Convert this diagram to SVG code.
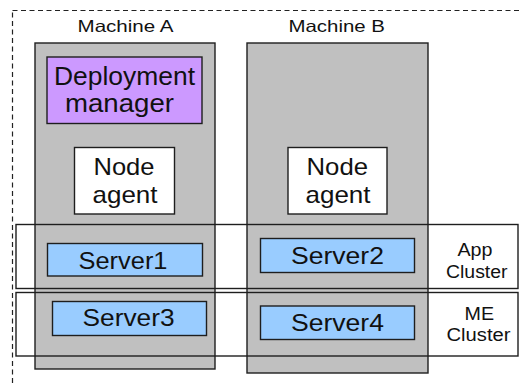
<svg xmlns="http://www.w3.org/2000/svg" width="521" height="385" viewBox="0 0 521 385">
  <style>
    text { font-family: "Liberation Sans", Arial, sans-serif; fill: #111; }
    .box { stroke: #1e1e1e; stroke-width: 1.4; }
    .machine { fill: #c0c0c0; }
    .dm { fill: #cc99ff; }
    .agent { fill: #ffffff; }
    .server { fill: #99ccff; }
    .cluster { fill: none; stroke: #1e1e1e; stroke-width: 1.4; }
    .cell { fill: none; stroke: #222; stroke-width: 1.2; stroke-dasharray: 5 3.5; }
    .lbl { font-size: 16.5px; }
    .big { font-size: 25px; }
    .srv { font-size: 24px; }
    .cl { font-size: 18px; }
  </style>

  <!-- dashed cell boundary (runs off the right and bottom edges) -->
  <rect id="cell" class="cell" x="12.5" y="10.5" width="530" height="400"/>

  <!-- machine labels -->
  <text class="lbl" x="77.5" y="31.5" textLength="96" lengthAdjust="spacingAndGlyphs">Machine A</text>
  <text class="lbl" x="288.5" y="31.5" textLength="96.5" lengthAdjust="spacingAndGlyphs">Machine B</text>

  <!-- machines -->
  <g id="machineA">
    <rect class="box machine" x="35" y="43" width="180" height="326"/>
  </g>
  <g id="machineB">
    <rect class="box machine" x="247" y="43" width="181" height="330"/>
  </g>

  <!-- cluster bands -->
  <g id="appCluster">
    <rect class="cluster" x="16" y="224.5" width="502" height="64"/>
    <text class="cl" x="457.5" y="256" textLength="35" lengthAdjust="spacingAndGlyphs">App</text>
    <text class="cl" x="446" y="277.5" textLength="61.5" lengthAdjust="spacingAndGlyphs">Cluster</text>
  </g>
  <g id="meCluster">
    <rect class="cluster" x="16" y="292.5" width="502" height="63.5"/>
    <text class="cl" x="464.5" y="319.5" textLength="29.5" lengthAdjust="spacingAndGlyphs">ME</text>
    <text class="cl" x="446.5" y="341" textLength="64" lengthAdjust="spacingAndGlyphs">Cluster</text>
  </g>

  <!-- processes on machine A -->
  <g id="deploymentManager">
    <rect class="box dm" x="47" y="57" width="155" height="66.5"/>
    <text class="big" x="54" y="85" textLength="141" lengthAdjust="spacingAndGlyphs">Deployment</text>
    <text class="big" x="65" y="111.5" textLength="109" lengthAdjust="spacingAndGlyphs">manager</text>
  </g>
  <g id="nodeAgentA">
    <rect class="box agent" x="74.5" y="147.5" width="100" height="66.5"/>
    <text class="srv" x="93.5" y="175" textLength="61" lengthAdjust="spacingAndGlyphs">Node</text>
    <text class="srv" x="92.5" y="203" textLength="65" lengthAdjust="spacingAndGlyphs">agent</text>
  </g>
  <g id="server1">
    <rect class="box server" x="47.5" y="243.5" width="155" height="32.5"/>
    <text class="srv" x="78.5" y="268.5" textLength="89" lengthAdjust="spacingAndGlyphs">Server1</text>
  </g>
  <g id="server3">
    <rect class="box server" x="52.5" y="301.5" width="154" height="34"/>
    <text class="srv" x="82.5" y="326" textLength="92" lengthAdjust="spacingAndGlyphs">Server3</text>
  </g>

  <!-- processes on machine B -->
  <g id="nodeAgentB">
    <rect class="box agent" x="288" y="147.5" width="99" height="66.5"/>
    <text class="srv" x="306.5" y="175" textLength="61.5" lengthAdjust="spacingAndGlyphs">Node</text>
    <text class="srv" x="305.5" y="203" textLength="65" lengthAdjust="spacingAndGlyphs">agent</text>
  </g>
  <g id="server2">
    <rect class="box server" x="260.5" y="238.5" width="154" height="34"/>
    <text class="srv" x="291" y="264" textLength="93" lengthAdjust="spacingAndGlyphs">Server2</text>
  </g>
  <g id="server4">
    <rect class="box server" x="260.5" y="306" width="154" height="33.5"/>
    <text class="srv" x="291" y="331" textLength="93" lengthAdjust="spacingAndGlyphs">Server4</text>
  </g>

  <!-- no connectors in this layout -->
  <g id="connectors"/>
</svg>
